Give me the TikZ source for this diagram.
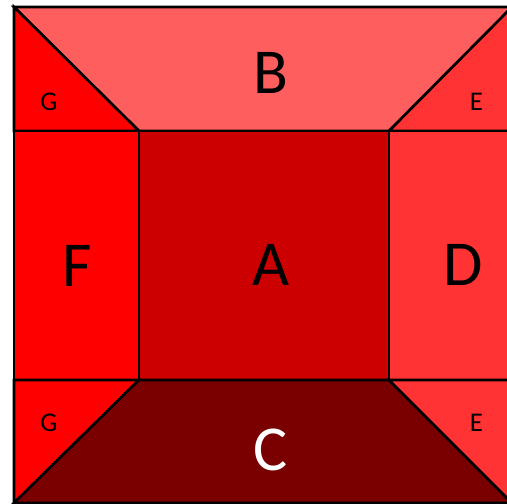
\documentclass[tikz,border=0pt]{standalone}
\usepackage{fontspec}
\setmainfont{Carlito}
\definecolor{colA}{RGB}{204,0,0}
\definecolor{colB}{RGB}{255,94,94}
\definecolor{colC}{RGB}{122,0,0}
\definecolor{colD}{RGB}{255,51,51}
\definecolor{colF}{RGB}{255,0,0}
\begin{document}
\begin{tikzpicture}[x=1pt,y=-1pt,
  face/.style={draw=black,line width=2.6pt,line join=miter},
  biglab/.style={inner sep=0pt,font=\fontsize{64}{64}\selectfont},
  smalllab/.style={inner sep=0pt,font=\fontsize{27}{27}\selectfont}]
\useasboundingbox (0,0) rectangle (507,504);
\clip (0,0) rectangle (507,504);
% faces
\filldraw[face,fill=colB] (14,7) -- (512,7) -- (389,131) -- (139,131) -- cycle;
\filldraw[face,fill=colF] (14,7) -- (139,131) -- (14,131) -- cycle;
\filldraw[face,fill=colD] (512,7) -- (512,131) -- (389,131) -- cycle;
\filldraw[face,fill=colF] (14,131) rectangle (139,380);
\filldraw[face,fill=colA] (139,131) rectangle (389,380);
\filldraw[face,fill=colD] (389,131) rectangle (512,380);
\filldraw[face,fill=colF] (14,380) -- (139,380) -- (14,503) -- cycle;
\filldraw[face,fill=colC] (14,503) -- (139,380) -- (389,380) -- (512,503) -- cycle;
\filldraw[face,fill=colD] (389,380) -- (512,380) -- (512,503) -- cycle;
\draw[face] (14,7) rectangle (512,503);
% labels
\node[biglab] (labB) at (271,73) {B};
\node[biglab] (labA) at (271,265) {A};
\node[biglab,text=white] (labC) at (271,450) {C};
\node[biglab] (labF) at (77,266) {F};
\node[biglab] (labD) at (463,265) {D};
\node[smalllab] (labG1) at (49,102) {G};
\node[smalllab] (labG2) at (49,422.5) {G};
\node[smalllab] (labE1) at (476.5,102) {E};
\node[smalllab] (labE2) at (476.5,422.5) {E};
\end{tikzpicture}
\end{document}
